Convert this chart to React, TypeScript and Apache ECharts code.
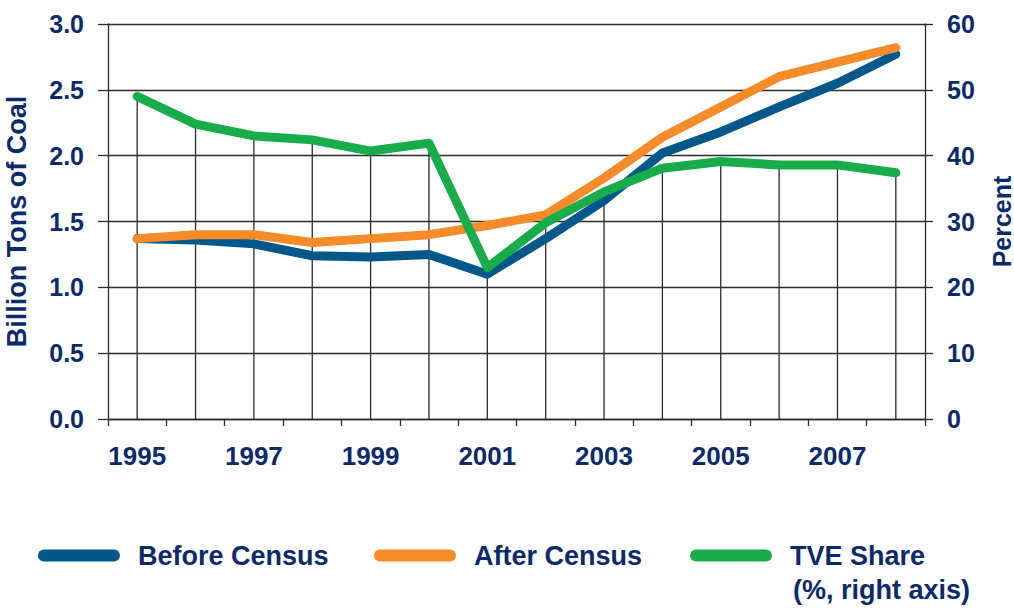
import React, { useEffect, useRef } from "react";
import * as echarts from "echarts";

const years = ["1995","1996","1997","1998","1999","2000","2001","2002","2003","2004","2005","2006","2007","2008"];
const beforeCensus = [1.37, 1.36, 1.33, 1.24, 1.23, 1.25, 1.10, 1.37, 1.66, 2.02, 2.18, 2.37, 2.55, 2.77];
const afterCensus = [1.37, 1.40, 1.40, 1.34, 1.37, 1.40, 1.47, 1.55, 1.83, 2.14, 2.37, 2.60, 2.71, 2.82];
const tveShare = [49.0, 44.8, 43.0, 42.4, 40.7, 41.9, 23.0, 29.8, 34.5, 38.1, 39.1, 38.6, 38.6, 37.4];

const TEXT = "#0B2A6A";
const BLUE = "#00578A";
const ORANGE = "#F68B29";
const GREEN = "#19AC4B";
const GRID = "#2b2b2b";
const FONT = "'Liberation Sans', Arial, sans-serif";
const ICON = "path://M6,0 H76 A6,6 0 0 1 76,12 H6 A6,6 0 0 1 6,0 Z";

export default function App() {
  const ref = useRef<HTMLDivElement>(null);
  useEffect(() => {
    if (!ref.current) return;
    const chart = echarts.init(ref.current, null, { renderer: "svg" });
    const legendBase = {
      orient: "horizontal",
      icon: ICON,
      itemWidth: 82,
      itemHeight: 12,
      padding: 0,
      textStyle: { color: TEXT, fontSize: 27, fontWeight: "bold", fontFamily: FONT, padding: [0, 0, 0, 13] },
      selectedMode: false,
    };
    chart.setOption({
      animation: false,
      backgroundColor: "#ffffff",
      grid: { left: 108, right: 89, top: 24, bottom: 189, containLabel: false, outerBoundsMode: "none" },
      legend: [
        { ...legendBase, data: ["Before Census"], left: 38, top: 542 },
        { ...legendBase, data: ["After Census"], left: 374, top: 542 },
        { ...legendBase, data: ["TVE Share"], left: 690, top: 542 },
      ],
      graphic: [
        {
          type: "text",
          left: 793,
          top: 576,
          style: { text: "(%, right axis)", fill: TEXT, fontSize: 27, fontWeight: "bold", fontFamily: FONT },
        },
      ],
      xAxis: {
        type: "category",
        data: years,
        boundaryGap: true,
        axisLine: { show: true, lineStyle: { color: GRID, width: 1.3 } },
        axisTick: { show: true, interval: 0, length: 7, lineStyle: { color: GRID, width: 1.3 } },
        axisLabel: { interval: 1, color: TEXT, fontSize: 26, fontWeight: "bold", fontFamily: FONT, margin: 24 },
        splitLine: { show: false },
      },
      yAxis: [
        {
          type: "value",
          min: 0,
          max: 3,
          interval: 0.5,
          name: "Billion Tons of Coal",
          nameLocation: "middle",
          nameGap: 78,
          nameTextStyle: { color: TEXT, fontSize: 27, fontWeight: "bold", fontFamily: FONT },
          axisLine: { show: true, lineStyle: { color: GRID, width: 1.3 } },
          axisTick: { show: true, length: 10, lineStyle: { color: GRID, width: 1.3 } },
          axisLabel: { color: TEXT, fontSize: 25, fontWeight: "bold", fontFamily: FONT, margin: 24, formatter: (v: number) => v.toFixed(1) },
          splitLine: { show: true, lineStyle: { color: GRID, width: 1.3 } },
        },
        {
          type: "value",
          min: 0,
          max: 60,
          interval: 10,
          position: "right",
          name: "Percent",
          nameLocation: "middle",
          nameGap: 64,
          nameTextStyle: { color: TEXT, fontSize: 25, fontWeight: "bold", fontFamily: FONT },
          axisLine: { show: true, lineStyle: { color: GRID, width: 1.3 } },
          axisTick: { show: true, length: 8, lineStyle: { color: GRID, width: 1.3 } },
          axisLabel: { color: TEXT, fontSize: 25, fontWeight: "bold", fontFamily: FONT, margin: 22 },
          splitLine: { show: false },
        },
      ],
      series: [
        {
          name: "drop",
          type: "bar",
          yAxisIndex: 1,
          data: tveShare,
          barWidth: 1.3,
          itemStyle: { color: GRID },
          silent: true,
          z: 1,
        },
        {
          name: "Before Census",
          type: "line",
          data: beforeCensus,
          symbol: "none",
          color: BLUE,
          lineStyle: { color: BLUE, width: 9, cap: "round", join: "round" },
          z: 3,
        },
        {
          name: "After Census",
          type: "line",
          data: afterCensus,
          symbol: "none",
          color: ORANGE,
          lineStyle: { color: ORANGE, width: 9, cap: "round", join: "round" },
          z: 4,
        },
        {
          name: "TVE Share",
          type: "line",
          yAxisIndex: 1,
          data: tveShare,
          symbol: "none",
          color: GREEN,
          lineStyle: { color: GREEN, width: 9, cap: "round", join: "round" },
          z: 5,
        },
      ],
    });
    return () => chart.dispose();
  }, []);
  return <div ref={ref} style={{ position: "fixed", left: 0, top: 0, width: 1014, height: 608 }} />;
}
